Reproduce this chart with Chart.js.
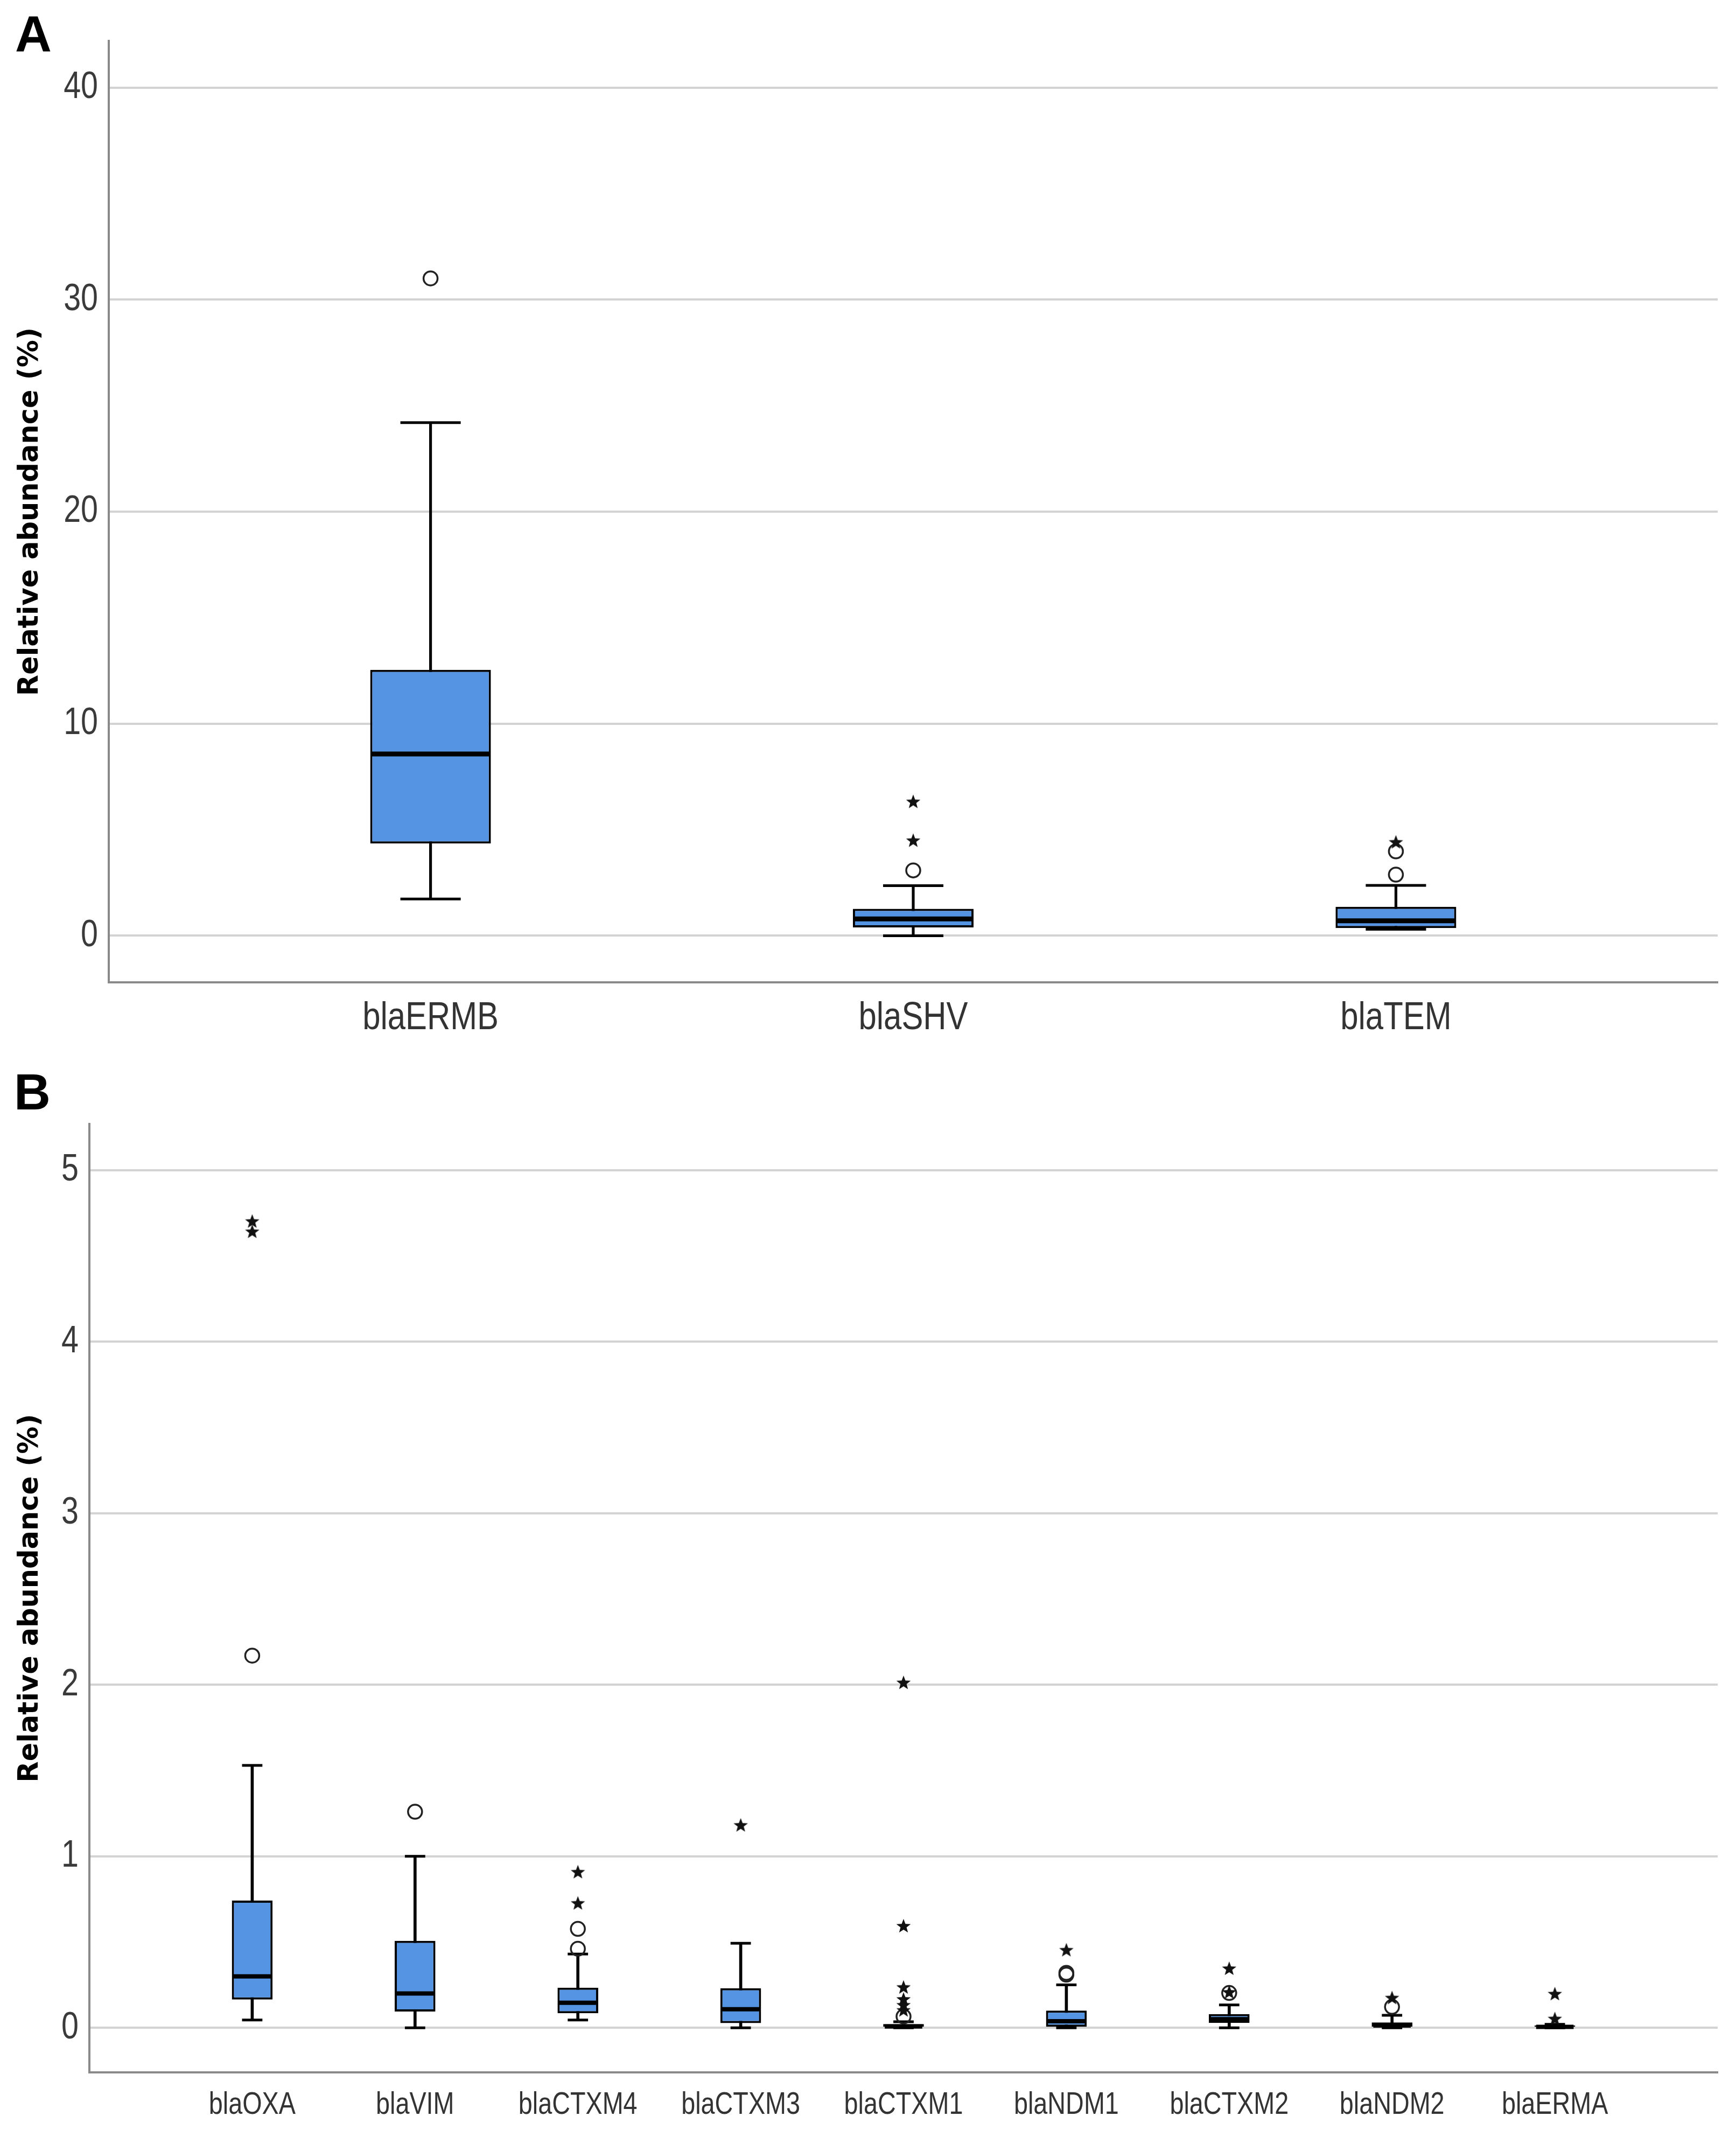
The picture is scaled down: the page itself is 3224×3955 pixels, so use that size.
<!DOCTYPE html>
<html>
<head>
<meta charset="utf-8">
<script src="https://cdn.jsdelivr.net/npm/chart.js@4.4.1/dist/chart.umd.min.js"></script>
<style>
  body { margin: 0; background: #fff; }
  .panel { position: absolute; left: 0; display: block; }
  .tag { position: absolute; font-family: "Liberation Sans", Arial, sans-serif; font-weight: bold; font-size: 94px; line-height: 1; color: #000; }
</style>
</head>
<body>
<canvas id="chartA" class="panel" width="3224" height="1960" style="top:0"></canvas>
<canvas id="chartB" class="panel" width="3224" height="1995" style="top:1960px"></canvas>
<div class="tag" style="left:28px;top:17px">A</div>
<div class="tag" style="left:26px;top:1981px">B</div>
<script>
// Panel A data
const catsA = ["blaERMB", "blaSHV", "blaTEM"];
const minA = [1.73, 0.0, 0.30];
const q1A = [4.35, 0.39, 0.36];
const medA = [8.57, 0.79, 0.70];
const q3A = [12.54, 1.27, 1.36];
const maxA = [24.2, 2.36, 2.37];
const circlesA = [[31.0], [3.08], [2.88, 3.98]];
const starsA = [[], [4.47, 6.30], [4.39]];
const yTicksA = [0, 10, 20, 30, 40];

// Panel B data
const catsB = ["blaOXA", "blaVIM", "blaCTXM4", "blaCTXM3", "blaCTXM1", "blaNDM1", "blaCTXM2", "blaNDM2", "blaERMA"];
const minB = [0.045, 0.0, 0.045, 0.0, 0.0, 0.0, 0.0, 0.0, 0.0];
const q1B = [0.165, 0.095, 0.085, 0.027, 0.0, 0.0, 0.028, 0.0, 0.0];
const medB = [0.30, 0.20, 0.146, 0.108, 0.008, 0.038, 0.05, 0.013, 0.005];
const q3B = [0.742, 0.507, 0.234, 0.231, 0.022, 0.10, 0.08, 0.031, 0.013];
const maxB = [1.53, 1.0, 0.43, 0.493, 0.035, 0.25, 0.133, 0.073, 0.02];
const circlesB = [[2.17], [1.26], [0.461, 0.577], [], [0.066], [0.31, 0.32], [0.203], [0.122], []];
const starsB = [[4.64, 4.70], [], [0.724, 0.906], [1.179], [0.10, 0.13, 0.164, 0.234, 0.591, 2.01], [0.451], [0.205, 0.343], [0.172], [0.05, 0.195]];
const yTicksB = [0, 1, 2, 3, 4, 5];

const BLUE = "#5494e3";
const SANS = '"Liberation Sans", Arial, sans-serif';

// no narrow face is installed, so squeeze the (non bold) axis text horizontally
const narrowText = {
  id: "narrowText",
  beforeDraw(chart) {
    const ctx = chart.ctx;
    if (ctx._narrow) return;
    const fill = ctx.fillText.bind(ctx);
    ctx.fillText = function (text, x, y, maxWidth) {
      if (this.font.indexOf("bold") !== -1) return fill(text, x, y, maxWidth);
      this.save();
      this.translate(x, y);
      this.scale(0.82, 1);
      fill(text, 0, 0);
      this.restore();
    };
    ctx._narrow = true;
  }
};

// small filled five point star used for extreme values
function makeStar(size) {
  const c = document.createElement("canvas");
  c.width = size;
  c.height = size;
  const g = c.getContext("2d");
  const R = size / 2 - 1, r = R * 0.42;
  g.beginPath();
  for (let i = 0; i < 10; i++) {
    const a = -Math.PI / 2 + i * Math.PI / 5;
    const rad = i % 2 ? r : R;
    g.lineTo(size / 2 + rad * Math.cos(a), size / 2 + rad * Math.sin(a));
  }
  g.closePath();
  g.fillStyle = "#111";
  g.fill();
  return c;
}
const starImg = makeStar(30);

function outlierPoints(lists) {
  const pts = [];
  lists.forEach((vals, i) => vals.forEach(v => pts.push({ x: i + 1, y: v })));
  return pts;
}

// pixel length of `frac` units along the x scale
function unitPx(chart, frac) {
  const x = chart.scales.x;
  return x.getPixelForValue(1 + frac) - x.getPixelForValue(1);
}

function boxChart(id, cats, mins, q1s, meds, q3s, maxs, circles, stars, yTicks, cfg) {
  const pos = cats.map((c, i) => i + 1);
  return new Chart(document.getElementById(id), {
    type: "scatter",
    plugins: [narrowText],
    data: {
      datasets: [
        {
          data: outlierPoints(stars),
          pointStyle: starImg,
          pointRadius: 14
        },
        {
          data: outlierPoints(circles),
          pointStyle: "circle",
          pointRadius: 13,
          pointBorderWidth: 3.5,
          pointBorderColor: "#222",
          pointBackgroundColor: "rgba(0,0,0,0)"
        },
        {
          // medians
          data: pos.map((x, i) => ({ x: x, y: meds[i] })),
          pointStyle: "line",
          pointRadius: ctx => unitPx(ctx.chart, 0.125) - 3,
          pointBorderWidth: cfg.medW,
          pointBorderColor: "#000"
        },
        {
          // whisker caps
          data: pos.flatMap((x, i) => [{ x: x, y: mins[i] }, { x: x, y: maxs[i] }]),
          pointStyle: "line",
          pointRadius: ctx => unitPx(ctx.chart, 0.0625),
          pointBorderWidth: 5,
          pointBorderColor: "#000"
        },
        {
          type: "bar",
          data: pos.map((x, i) => ({ x: x, y: [q1s[i], q3s[i]] })),
          grouped: false,
          categoryPercentage: 0.25,
          barPercentage: 1,
          backgroundColor: BLUE,
          borderColor: "#000",
          borderWidth: 4,
          borderSkipped: false
        },
        {
          // whisker stems
          type: "bar",
          data: pos.map((x, i) => ({ x: x, y: [mins[i], maxs[i]] })),
          grouped: false,
          barThickness: cfg.stemW,
          backgroundColor: "#000",
          borderWidth: 0
        }
      ]
    },
    options: {
      responsive: false,
      devicePixelRatio: 1,
      animation: false,
      events: [],
      layout: { padding: cfg.padding },
      plugins: { legend: { display: false }, tooltip: { enabled: false } },
      scales: {
        x: {
          type: "linear",
          offset: false,
          min: cfg.xMin,
          max: cfg.xMax,
          afterBuildTicks: s => { s.ticks = pos.map(v => ({ value: v })); },
          afterFit: s => { s.height = cfg.xH; },
          grid: { display: false, offset: false },
          border: { color: "#8a8a8a", width: 4 },
          ticks: {
            callback: (v, i) => cats[i],
            autoSkip: false,
            maxRotation: 0,
            padding: cfg.xPad,
            color: "#333",
            font: { family: SANS, size: cfg.xFont }
          }
        },
        y: {
          min: cfg.yMin,
          max: cfg.yMax,
          afterBuildTicks: s => { s.ticks = yTicks.map(v => ({ value: v })); },
          afterFit: s => { s.width = cfg.yW; },
          grid: { color: "#d3d3d3", lineWidth: 4, drawTicks: false },
          border: { color: "#8a8a8a", width: 4 },
          ticks: {
            padding: 20,
            color: "#3a3a3a",
            font: { family: SANS, size: 70 }
          },
          title: {
            display: true,
            text: "Relative abundance (%)",
            color: "#000",
            font: { family: '"DejaVu Sans", Verdana, sans-serif', size: 51, weight: "bold", lineHeight: 1.2 },
            padding: { top: 26, bottom: 0 }
          }
        }
      }
    }
  });
}

const chartA = boxChart("chartA", catsA, minA, q1A, medA, q3A, maxA, circlesA, starsA, yTicksA, {
  padding: { top: 76, right: 34, left: 0, bottom: 0 },
  yW: 202, xH: 136, xMin: 1 / 3, xMax: 11 / 3, yMin: -2.2, yMax: 42.2,
  xFont: 73, xPad: 15, medW: 9, stemW: 4.5
});

const chartB = boxChart("chartB", catsB, minB, q1B, medB, q3B, maxB, circlesB, starsB, yTicksB, {
  padding: { top: 127, right: 34, left: 0, bottom: 0 },
  yW: 166, xH: 107, xMin: 0, xMax: 10, yMin: -0.26, yMax: 5.27,
  xFont: 57, xPad: 19, medW: 8, stemW: 5
});
</script>
</body>
</html>
